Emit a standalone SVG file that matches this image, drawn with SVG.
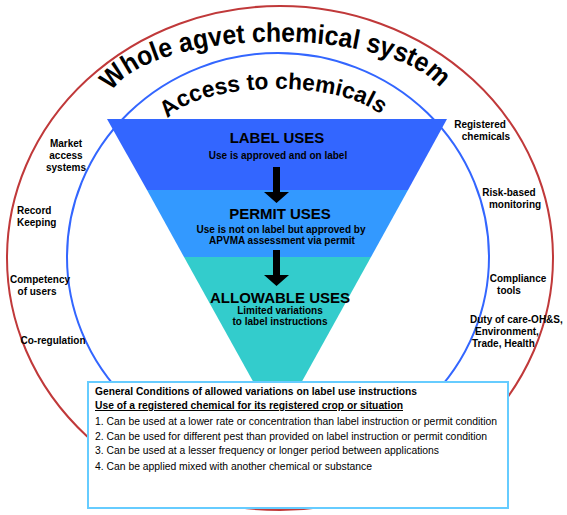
<svg xmlns="http://www.w3.org/2000/svg" width="567" height="515" viewBox="0 0 567 515">
<style>
text{font-family:"Liberation Sans",Arial,sans-serif;fill:#000}
.b{font-weight:bold}
.side{font-size:10px;font-weight:bold}
.side-c{text-anchor:middle}
.head{font-size:15px;font-weight:bold;text-anchor:middle}
.sub{font-size:10px;font-weight:bold;text-anchor:middle}
.box{font-size:10px}
.arc{font-weight:bold}
</style>
<defs>
<path id="outerArc" d="M112,92 A168,62 0 0 1 442,92"/>
<path id="innerArc" d="M168,119 A112,41 0 0 1 384,119"/>
</defs>
<rect width="567" height="515" fill="#fff"/>
<g id="whole-system">
<ellipse cx="280" cy="258" rx="273" ry="252" fill="none" stroke="#C0393A" stroke-width="2"/>
<text class="arc" font-size="27"><textPath href="#outerArc" textLength="352" lengthAdjust="spacingAndGlyphs">Whole agvet chemical system</textPath></text>
</g>
<g id="access">
<ellipse cx="278" cy="257" rx="211" ry="204" fill="none" stroke="#3366FF" stroke-width="2"/>
<text class="arc" font-size="23"><textPath href="#innerArc" textLength="224" lengthAdjust="spacingAndGlyphs">Access to chemicals</textPath></text>
</g>
<g id="label-uses">
<polygon points="107,119 447,119 408,190 147,190" fill="#3366FF"/>
<text class="head" x="277" y="143">LABEL USES</text>
<text class="sub" x="278" y="159">Use is approved and on  label</text>
</g>
<g id="permit-uses">
<polygon points="147,190 408,190 371,257 184,257" fill="#3399FF"/>
<text class="head" x="280" y="219">PERMIT USES</text>
<text class="sub" x="281" y="233">Use is not on label but approved by</text>
<text class="sub" x="282" y="244">APVMA assessment  via permit</text>
</g>
<g id="allowable-uses">
<polygon points="184,257 371,257 300,385 255,385" fill="#33CCCC"/>
<text class="head" x="280" y="303">ALLOWABLE USES</text>
<text class="sub" x="280" y="314">Limited variations</text>
<text class="sub" x="280" y="325">to label instructions</text>
</g>
<g id="connectors">
<polygon points="273,167 280,167 280,192 289,192 276.5,203 264,192 273,192" fill="#000"/>
<polygon points="273,250 280,250 280,275 289,275 276.5,286 264,275 273,275" fill="#000"/>
</g>
<g id="left-labels">
<text class="side side-c" x="66" y="147">Market</text>
<text class="side side-c" x="66" y="159">access</text>
<text class="side side-c" x="66" y="171">systems</text>
<text class="side" x="17" y="214">Record</text>
<text class="side" x="17" y="226">Keeping</text>
<text class="side side-c" x="40" y="283">Competency</text>
<text class="side side-c" x="37" y="295">of users</text>
<text class="side side-c" x="53" y="344">Co-regulation</text>
</g>
<g id="right-labels">
<text class="side side-c" x="480" y="128">Registered</text>
<text class="side side-c" x="486" y="140">chemicals</text>
<text class="side side-c" x="509" y="196">Risk-based</text>
<text class="side side-c" x="515" y="208">monitoring</text>
<text class="side side-c" x="518" y="282">Compliance</text>
<text class="side side-c" x="509" y="294">tools</text>
<text class="side" x="470" y="323">Duty of care-OH&amp;S,</text>
<text class="side" x="475" y="335">Environment,</text>
<text class="side" x="472" y="347">Trade, Health</text>
</g>
<g id="conditions-box">
<rect x="88" y="382" width="420" height="126" fill="#fff" stroke="#66CCFF" stroke-width="2"/>
<text class="box b" x="95" y="395" textLength="322" lengthAdjust="spacingAndGlyphs">General Conditions  of allowed variations  on label use instructions</text>
<text class="box b" x="95" y="409" textLength="308" lengthAdjust="spacingAndGlyphs" text-decoration="underline">Use of a registered  chemical for its registered  crop  or situation</text>
<text class="box" x="95" y="425" textLength="402" lengthAdjust="spacingAndGlyphs">1. Can be used at a lower rate or concentration than label instruction or permit condition</text>
<text class="box" x="95" y="440" textLength="392" lengthAdjust="spacingAndGlyphs">2. Can be used for different pest than provided on label instruction or permit condition</text>
<text class="box" x="95" y="454" textLength="344" lengthAdjust="spacingAndGlyphs">3. Can be used at a lesser frequency or longer period between applications</text>
<text class="box" x="95" y="470" textLength="277" lengthAdjust="spacingAndGlyphs">4. Can be applied mixed with another chemical or substance</text>
</g>
</svg>
